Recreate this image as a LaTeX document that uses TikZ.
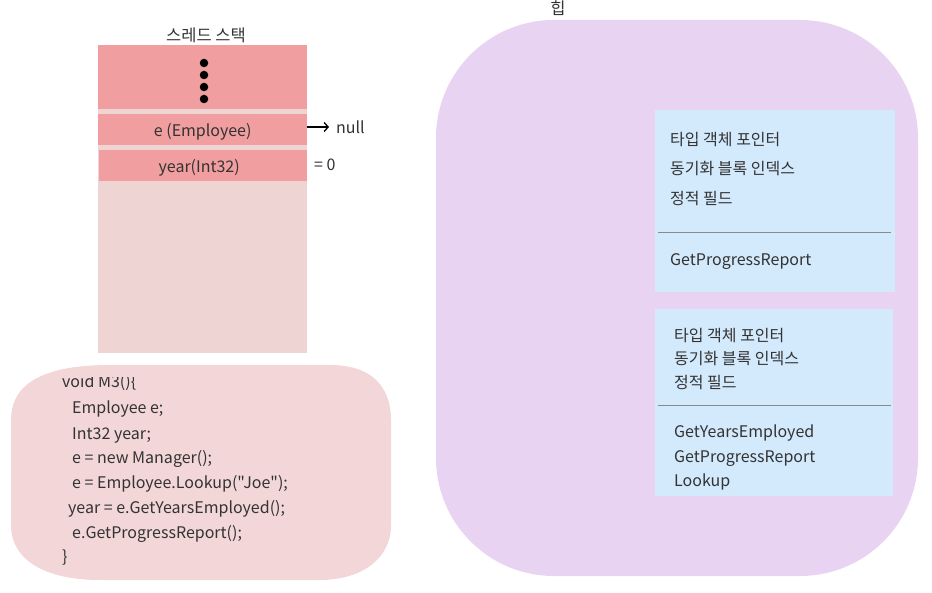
\documentclass[tikz,border=0pt]{standalone}
\usepackage{fontspec}
\setmainfont{Noto Sans CJK KR}[Ligatures=TeXOff]
\usetikzlibrary{arrows.meta}
\definecolor{stackdark}{HTML}{F09E9F}
\definecolor{stacklight}{HTML}{EFD4D4}
\definecolor{codebg}{HTML}{F2D6D8}
\definecolor{heapbg}{HTML}{E8D3F2}
\definecolor{objbg}{HTML}{D3E9FC}
\definecolor{txt}{HTML}{333333}
\definecolor{sep}{HTML}{8A8A8A}
\tikzset{
  lbl/.style={inner sep=0pt, text height=14pt, text depth=0pt, text=txt, font=\fontsize{16}{19}\selectfont},
  lw/.style={lbl, anchor=west},
  title/.style={inner sep=0pt, anchor=base, text=txt, font=\fontsize{16.5}{19}\selectfont},
  dotc/.style={circle, fill=black, inner sep=0pt, minimum size=8.5pt},
  sepline/.style={draw=sep, line width=0.8pt},
}
\begin{document}
\begin{tikzpicture}[x=1pt,y=-1pt]
\useasboundingbox (0,0) rectangle (932,593);
% ---------- thread stack ----------
\node[title] (stitle) at (206,42) {스레드 스택};
\fill[stacklight] (98,45) rectangle (307,353);
\fill[stackdark] (98,45) rectangle (307,109);
\node[dotc] (d1) at (204,63) {};
\node[dotc] (d2) at (204,75) {};
\node[dotc] (d3) at (204,87) {};
\node[dotc] (d4) at (204,99) {};
\node[fill=stackdark, minimum width=209pt, minimum height=31pt, inner sep=0pt, anchor=north west] (ebox) at (98,114) {};
\node[lbl] (etxt) at (ebox.center) {e (Employee)};
\node[fill=stackdark, minimum width=208pt, minimum height=31pt, inner sep=0pt, anchor=north west] (ybox) at (99,150) {};
\node[lbl] (ytxt) at ([xshift=-4pt]ybox.center) {year(Int32)};
\node[lw] (nulltxt) at (336,127) {null};
\coordinate (atip) at (329,127);
\draw[-{Straight Barb[length=4pt,width=9pt]}, line width=1.3pt] (ebox.east |- atip) -- (atip);
\node[lw] (zero) at (314,164) {= 0};
% ---------- code ----------
\fill[codebg] (11,420) .. controls (11,380) and (50,365) .. (110,365) -- (330,365)
  .. controls (375,365) and (391,390) .. (391,420) -- (391,525)
  .. controls (391,560) and (360,580) .. (320,580) -- (100,580)
  .. controls (45,580) and (11,560) .. (11,525) -- cycle;
\begin{scope}
\clip (0,378) rectangle (400,593);
\node[lw] (c1) at (62,381) {void M3()\{};
\end{scope}
\node[lw] (c2) at (72,407) {Employee e;};
\node[lw] (c3) at (72,432) {Int32 year;};
\node[lw] (c4) at (72,457) {e = new Manager();};
\node[lw] (c5) at (72,482) {e = Employee.Lookup("Joe");};
\node[lw] (c6) at (68,506) {year = e.GetYearsEmployed();};
\node[lw] (c7) at (72,531) {e.GetProgressReport();};
\node[lw] (c8) at (62,555) {\}};
% ---------- heap ----------
\node[title] (htitle) at (558,15) {힙};
\fill[heapbg, rounded corners=118pt] (436,20) rectangle (918,576);
% object 1
\fill[objbg] (655,110) rectangle (895,292);
\coordinate (s1a) at (658,232);
\coordinate (s1b) at (891,232);
\draw[sepline] (s1a) -- (s1b);
\node[lw] (o1a) at (670,139) {타입 객체 포인터};
\node[lw] (o1b) at (670,168) {동기화 블록 인덱스};
\node[lw] (o1c) at (670,198) {정적 필드};
\node[lw] (o1d) at (670,259) {GetProgressReport};
% object 2
\fill[objbg] (655,309) rectangle (893,496);
\coordinate (s2a) at (658,405);
\coordinate (s2b) at (891,405);
\draw[sepline] (s2a) -- (s2b);
\node[lw] (o2a) at (674,335) {타입 객체 포인터};
\node[lw] (o2b) at (674,358) {동기화 블록 인덱스};
\node[lw] (o2c) at (674,382) {정적 필드};
\node[lw] (o2d) at (674,431) {GetYearsEmployed};
\node[lw] (o2e) at (674,455) {GetProgressReport};
\node[lw] (o2f) at (674,479) {Lookup};
\end{tikzpicture}
\end{document}
